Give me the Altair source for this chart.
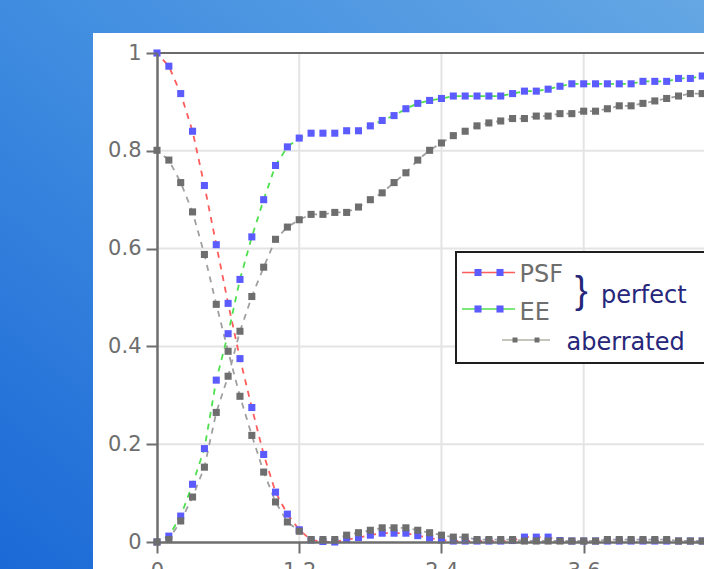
import altair as alt
import pandas as pd

# ---------------- data ----------------
x_vals = [0.0, 0.1, 0.2, 0.3, 0.4, 0.5, 0.6, 0.7, 0.8, 0.9,
          1.0, 1.1, 1.2, 1.3, 1.4, 1.5, 1.6, 1.7, 1.8, 1.9,
          2.0, 2.1, 2.2, 2.3, 2.4, 2.5, 2.6, 2.7, 2.8, 2.9,
          3.0, 3.1, 3.2, 3.3, 3.4, 3.5, 3.6, 3.7, 3.8, 3.9,
          4.0, 4.1, 4.2, 4.3, 4.4, 4.5, 4.6]

psf = [1.0, 0.973, 0.917, 0.840, 0.729, 0.608, 0.488, 0.375, 0.275, 0.179,
       0.102, 0.057, 0.025, 0.004, 0.001, 0.000, 0.005, 0.009, 0.014, 0.018,
       0.018, 0.018, 0.013, 0.008, 0.004, 0.002, 0.002, 0.002, 0.002, 0.002,
       0.003, 0.010, 0.010, 0.010, 0.003, 0.002, 0.002, 0.002, 0.002, 0.002,
       0.002, 0.002, 0.002, 0.002, 0.002, 0.002, 0.002]

ee = [0.0, 0.012, 0.053, 0.118, 0.191, 0.331, 0.426, 0.537, 0.624, 0.700,
      0.770, 0.808, 0.826, 0.836, 0.836, 0.836, 0.841, 0.841, 0.851, 0.862,
      0.872, 0.886, 0.897, 0.903, 0.907, 0.912, 0.912, 0.912, 0.912, 0.912,
      0.917, 0.922, 0.922, 0.926, 0.932, 0.937, 0.937, 0.937, 0.937, 0.937,
      0.937, 0.942, 0.942, 0.942, 0.948, 0.948, 0.953]

ab_psf = [0.801, 0.781, 0.735, 0.675, 0.588, 0.486, 0.390, 0.298, 0.218, 0.143,
          0.082, 0.041, 0.022, 0.005, 0.005, 0.005, 0.014, 0.019, 0.024, 0.029,
          0.029, 0.029, 0.024, 0.019, 0.014, 0.010, 0.010, 0.005, 0.005, 0.005,
          0.005, 0.002, 0.002, 0.002, 0.002, 0.002, 0.002, 0.002, 0.005, 0.005,
          0.005, 0.005, 0.005, 0.005, 0.002, 0.002, 0.002]

ab_ee = [0.0, 0.005, 0.043, 0.092, 0.153, 0.265, 0.339, 0.431, 0.502, 0.562,
         0.619, 0.644, 0.659, 0.670, 0.670, 0.674, 0.674, 0.685, 0.700, 0.714,
         0.735, 0.755, 0.781, 0.801, 0.816, 0.831, 0.840, 0.851, 0.857, 0.861,
         0.866, 0.866, 0.871, 0.871, 0.876, 0.876, 0.881, 0.881, 0.886, 0.892,
         0.892, 0.897, 0.902, 0.907, 0.912, 0.917, 0.917]

x_ticks = [0, 1.2, 2.4, 3.6]
y_ticks = [0, 0.2, 0.4, 0.6, 0.8, 1]
x_grid = [1.2, 2.4, 3.6]
y_grid = [0.2, 0.4, 0.6, 0.8]

df = pd.DataFrame({"x": x_vals, "psf": psf, "ee": ee,
                   "ab_psf": ab_psf, "ab_ee": ab_ee})
one = pd.DataFrame({"k": [0]})

# ---------------- layout ----------------
W, H = 547, 489
PL, PT, PB = 157, 53, 27

BLUE = "#5b5bff"
GRAY = "#6e6e6e"
RED = "#ff5c5c"
GREEN = "#4ee04e"
GLINE = "#a0a0a0"
NAVY = "#26267a"
TXT = "#6e6e6e"

xs = alt.Scale(domain=[0, 4.615], nice=False, zero=False)
ys = alt.Scale(domain=[0, 1], nice=False, zero=False)
axis_style = dict(title=None, grid=False, labelFlush=False, zindex=2,
                  domainColor=GRAY, domainWidth=2.5, tickColor=GRAY, tickWidth=2,
                  tickSize=11, labelFont="DejaVu Sans", labelFontSize=21,
                  labelColor=TXT, format=".1~f")
xaxis = alt.Axis(values=x_ticks, labelPadding=7, **axis_style)
yaxis = alt.Axis(values=y_ticks, labelPadding=5, **axis_style)

bg = alt.Chart(one).mark_rect(
    fill=alt.Gradient(gradient="linear",
                      stops=[alt.GradientStop(color="#1b69d6", offset=0),
                             alt.GradientStop(color="#3f8ce0", offset=0.5),
                             alt.GradientStop(color="#65a7e4", offset=1)],
                      x1=0, y1=1, x2=1, y2=0)
).encode(x=alt.value(-PL), x2=alt.value(W), y=alt.value(-PT), y2=alt.value(H + PB))

white = alt.Chart(one).mark_rect(fill="white").encode(
    x=alt.value(93 - PL), x2=alt.value(W), y=alt.value(33 - PT), y2=alt.value(H + PB))

gx = alt.Chart(pd.DataFrame({"gx": x_grid})).mark_rule(color="#e4e4e4", strokeWidth=2).encode(
    x=alt.X("gx:Q", scale=xs, axis=xaxis))
gy = alt.Chart(pd.DataFrame({"gy": y_grid})).mark_rule(color="#e4e4e4", strokeWidth=2).encode(
    y=alt.Y("gy:Q", scale=ys, axis=yaxis))
top = alt.Chart(one).mark_rule(color="#6a6a6a", strokeWidth=2).encode(
    y=alt.Y(datum=1, scale=ys, axis=yaxis))


def line(field, color):
    return alt.Chart(df).mark_line(color=color, strokeWidth=1.8,
                                   strokeDash=[6, 5.85], strokeDashOffset=3).encode(
        x=alt.X("x:Q", scale=xs, axis=xaxis),
        y=alt.Y(f"{field}:Q", scale=ys, axis=yaxis))


def squares(field, color):
    return alt.Chart(df).mark_square(size=50, color=color, opacity=1).encode(
        x=alt.X("x:Q", scale=xs, axis=xaxis),
        y=alt.Y(f"{field}:Q", scale=ys, axis=yaxis))


# ---------------- legend ----------------
leg_box = alt.Chart(one).mark_rect(fill="white", stroke="#1e1e1e", strokeWidth=2).encode(
    x=alt.value(299), x2=alt.value(570), y=alt.value(199), y2=alt.value(310))


def lrule(x1, x2, y, color, width=1.5):
    return alt.Chart(one).mark_rule(color=color, strokeWidth=width).encode(
        x=alt.value(x1), x2=alt.value(x2), y=alt.value(y))


def lsq(x, y, color, size=50):
    return alt.Chart(one).mark_square(size=size, color=color, opacity=1).encode(
        x=alt.value(x), y=alt.value(y))


def ltext(txt, x, y, color, size=24, font="DejaVu Sans"):
    return alt.Chart(one).mark_text(text=txt, align="left", baseline="alphabetic",
                                    font=font, fontSize=size, color=color).encode(
        x=alt.value(x), y=alt.value(y))


legend = [
    leg_box,
    lrule(305, 358, 219.5, RED), lsq(321, 219.5, BLUE), lsq(343, 219.5, BLUE),
    ltext("PSF", 362.5, 228.7, TXT),
    lrule(305, 358, 256, GREEN), lsq(321, 256, BLUE), lsq(343, 256, BLUE),
    ltext("EE", 362.5, 267, TXT),
    ltext("}", 418, 250, NAVY, 38, "Liberation Sans"),
    ltext("perfect", 444, 250.3, NAVY),
    lrule(345, 393, 287, "#8c8c78", 1.2), lsq(358, 287, GRAY, 25), lsq(380, 287, GRAY, 25),
    ltext("aberrated", 409.5, 297, NAVY),
]

chart = alt.layer(
    bg, white, gx, gy, top,
    line("psf", RED), line("ee", GREEN), line("ab_psf", GLINE), line("ab_ee", GLINE),
    squares("psf", BLUE), squares("ee", BLUE),
    squares("ab_psf", GRAY), squares("ab_ee", GRAY),
    *legend
).properties(
    width=W, height=H,
    padding={"left": PL, "top": PT, "right": 0, "bottom": PB},
    autosize=alt.AutoSizeParams(type="none"),
    background="white",
).configure_axis(zindex=2).configure_view(stroke=None)

chart.save("out.html", embed_options={"renderer": "svg", "actions": False})
